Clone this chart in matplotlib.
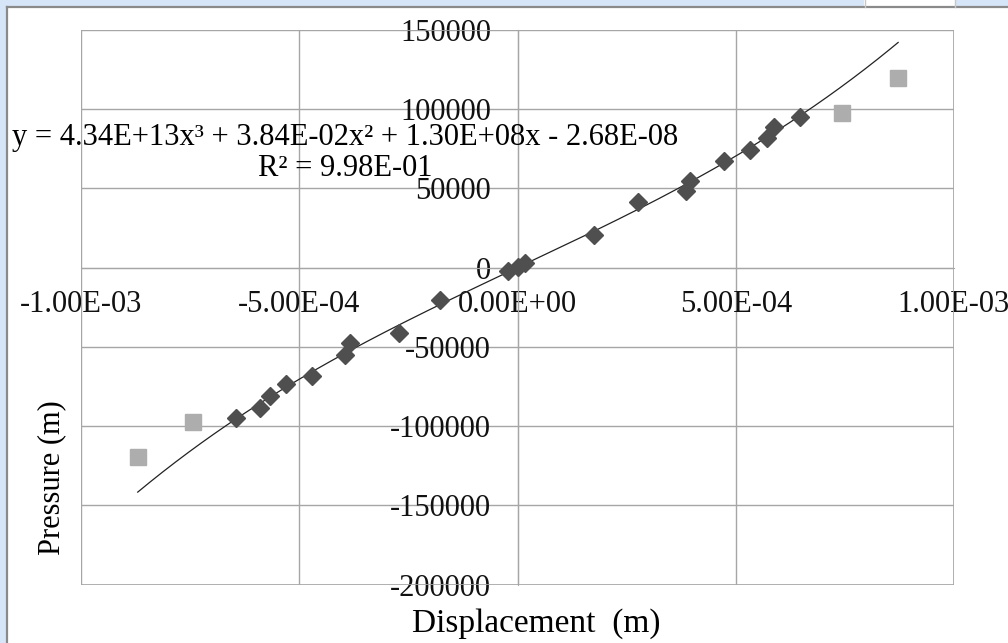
import matplotlib.pyplot as plt
from matplotlib.patches import Rectangle
from matplotlib.lines import Line2D
import numpy as np


# measured points (diamonds) and the outer points (grey squares)
disp_main = [-6.46e-4, -5.89e-4, -5.68e-4, -5.31e-4, -4.70e-4, -3.95e-4, -3.83e-4,
             -2.72e-4, -1.78e-4, -0.21e-4, 0.0, 0.18e-4, 1.76e-4, 2.75e-4,
             3.86e-4, 3.96e-4, 4.72e-4, 5.32e-4, 5.72e-4, 5.88e-4, 6.48e-4]
pres_main = [-95100, -88800, -81000, -73600, -68400, -55100, -47700,
             -41000, -20400, -1900, 600, 2800, 20500, 41700,
             48600, 54700, 67500, 74300, 81700, 89000, 95300]

disp_outer = [-8.70e-4, -7.44e-4, 7.43e-4, 8.72e-4]
pres_outer = [-119300, -97400, 97500, 119600]

# cubic trend line coefficients as printed on the chart
trend_coef = [4.34e13, 3.84e-2, 1.30e8, -2.68e-8]
trend_text = 'y = 4.34E+13x³ + 3.84E-02x² + 1.30E+08x - 2.68E-08'
r2_text = 'R² = 9.98E-01'

x_ticks = [-1e-3, -5e-4, 0.0, 5e-4, 1e-3]
x_tick_labels = ['-1.00E-03', '-5.00E-04', '0.00E+00', '5.00E-04', '1.00E-03']
y_ticks = [-200000, -150000, -100000, -50000, 0, 50000, 100000, 150000]
y_tick_labels = ['-200000', '-150000', '-100000', '-50000', '0', '50000', '100000', '150000']

W, H = 1008, 643
plt.rcParams['font.family'] = ['Liberation Serif', 'DejaVu Serif']

fig = plt.figure(figsize=(W / 100, H / 100), dpi=100)
fig.patch.set_facecolor('#d6e5f8')

# white chart area with its grey frame (window edge shows at top/left)
fig.patches.append(Rectangle((7 / W, 0), 1, 1 - 7 / H, transform=fig.transFigure,
                             facecolor='white', edgecolor='none', zorder=-2))
fig.patches.append(Rectangle((864 / W, 1 - 7 / H), 91 / W, 7 / H, transform=fig.transFigure,
                             facecolor='white', edgecolor='none', zorder=-2))
fig.lines.append(Line2D([7 / W, 7 / W], [0, 1 - 7 / H], transform=fig.transFigure,
                        color='#8a8a8a', lw=1.6, zorder=-1))
fig.lines.append(Line2D([7 / W, 1], [1 - 7 / H, 1 - 7 / H], transform=fig.transFigure,
                        color='#8a8a8a', lw=1.6, zorder=-1))
for xp in [865, 955]:
    fig.lines.append(Line2D([xp / W, xp / W], [1 - 7 / H, 1], transform=fig.transFigure,
                            color='#c8c8c8', lw=1, zorder=-1))

ax = fig.add_axes([81 / W, 58.5 / H, 873 / W, 554.5 / H])
ax.set_facecolor('none')
ax.set_xlim(-1e-3, 1e-3)
ax.set_ylim(-200000, 150000)

grid_col = '#a6a6a6'
for s in ['top', 'right']:
    ax.spines[s].set_visible(False)
ax.spines['left'].set_position(('data', 0))
ax.spines['bottom'].set_position(('data', 0))
ax.spines['left'].set_color(grid_col)
ax.spines['bottom'].set_color(grid_col)
ax.add_patch(Rectangle((0, 0), 1, 1, transform=ax.transAxes, fill=False,
                       edgecolor=grid_col, lw=1.2, zorder=1))

ax.set_xticks(x_ticks)
ax.set_xticklabels(x_tick_labels)
ax.set_yticks(y_ticks)
ax.set_yticklabels(y_tick_labels)
ax.tick_params(axis='both', length=0, labelsize=22, colors='#111111')
ax.tick_params(axis='y', pad=19)
ax.tick_params(axis='x', pad=16)
ax.grid(True, color=grid_col, lw=1)
ax.set_axisbelow(True)

xx = np.linspace(min(disp_outer), max(disp_outer), 300)
ax.plot(xx, np.polyval(trend_coef, xx), color='#222222', lw=0.9, zorder=3)
ax.plot(disp_main, pres_main, linestyle='none', marker='D', markersize=9.2,
        color='#4f4f4f', zorder=4)
ax.plot(disp_outer, pres_outer, linestyle='none', marker='s', markersize=12,
        color='#adadad', zorder=4)

fig.text(345 / W, 1 - 138 / H, trend_text, ha='center', va='center', fontsize=22)
fig.text(345 / W, 1 - 169 / H, r2_text, ha='center', va='center', fontsize=22)

fig.text(536 / W, 1 - 624 / H, 'Displacement  (m)', ha='center', va='center', fontsize=24)
fig.text(52 / W, 1 - 478 / H, 'Pressure (m)', ha='center', va='center', fontsize=22,
         rotation=90)

plt.savefig('out.png', dpi=100)
